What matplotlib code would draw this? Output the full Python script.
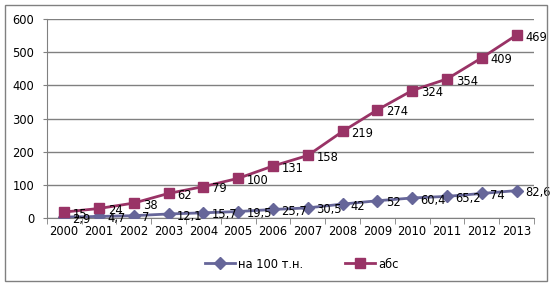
import matplotlib
matplotlib.use("Agg")
import matplotlib.pyplot as plt
import numpy as np
from matplotlib.patches import Rectangle

years = ["2000", "2001", "2002", "2003", "2004", "2005", "2006", "2007",
         "2008", "2009", "2010", "2011", "2012", "2013"]
per100 = [2.9, 4.7, 7, 12.1, 15.7, 19.5, 25.7, 30.5, 42, 52, 60.4, 65.2, 74, 82.6]
per100_labels = ["2,9", "4,7", "7", "12,1", "15,7", "19,5", "25,7", "30,5",
                 "42", "52", "60,4", "65,2", "74", "82,6"]
absv = [15, 24, 38, 62, 79, 100, 131, 158, 219, 274, 324, 354, 409, 469]
yticks = [0, 100, 200, 300, 400, 500, 600]

c1 = "#666699"
c2 = "#993366"
fs = 8.3

fig = plt.figure(figsize=(5.54, 2.87), dpi=100)
fig.patches.append(Rectangle((5/554, 1-281/287), 542/554, 276/287, transform=fig.transFigure,
                             fill=False, edgecolor="#808080", linewidth=1))
ax = fig.add_axes([46.7/554, 1-218/287, (534-46.7)/554, (218-19)/287])

x = np.arange(len(years))
stack = np.array(per100) + np.array(absv)

ax.plot(x, per100, color=c1, lw=2, marker="D", ms=6, mfc=c1, mec=c1, label="на 100 т.н.", zorder=3)
ax.plot(x, stack, color=c2, lw=2, marker="s", ms=7.5, mfc=c2, mec=c2, label="абс", zorder=3)

for xi, yi, t in zip(x, per100, per100_labels):
    ax.annotate(t, (xi, yi), xytext=(6, -1.5), textcoords="offset points", fontsize=fs,
                ha="left", va="center", color="black", zorder=4)
for xi, yi, t in zip(x, stack, absv):
    ax.annotate(str(t), (xi, yi), xytext=(6.5, -1.5), textcoords="offset points", fontsize=fs,
                ha="left", va="center", color="black", zorder=4)

ax.set_xlim(-0.5, len(years) - 0.5)
ax.set_ylim(0, 600)
ax.set_yticks(yticks)
ax.set_yticklabels([str(v) for v in yticks], fontsize=fs)
ax.set_xticks(x)
ax.set_xticklabels(years, fontsize=fs)
ax.set_xticks(np.arange(len(years) + 1) - 0.5, minor=True)
ax.tick_params(axis="x", which="major", length=0, pad=5)
ax.tick_params(axis="x", which="minor", length=4, color="#808080", direction="out")
ax.tick_params(axis="y", length=3, color="#808080", direction="out", pad=6)
ax.grid(axis="y", color="#808080", lw=1)
ax.set_axisbelow(True)
for s in ["top", "right"]:
    ax.spines[s].set_visible(False)
for s in ["left", "bottom"]:
    ax.spines[s].set_color("#808080")

fig.legend(loc="center left", bbox_to_anchor=(205/554, 1-264/287), ncol=2, frameon=False,
           fontsize=fs, handlelength=2.6, columnspacing=3.6, handletextpad=0.3,
           borderaxespad=0, borderpad=0)

fig.savefig("out.png", dpi=100)
